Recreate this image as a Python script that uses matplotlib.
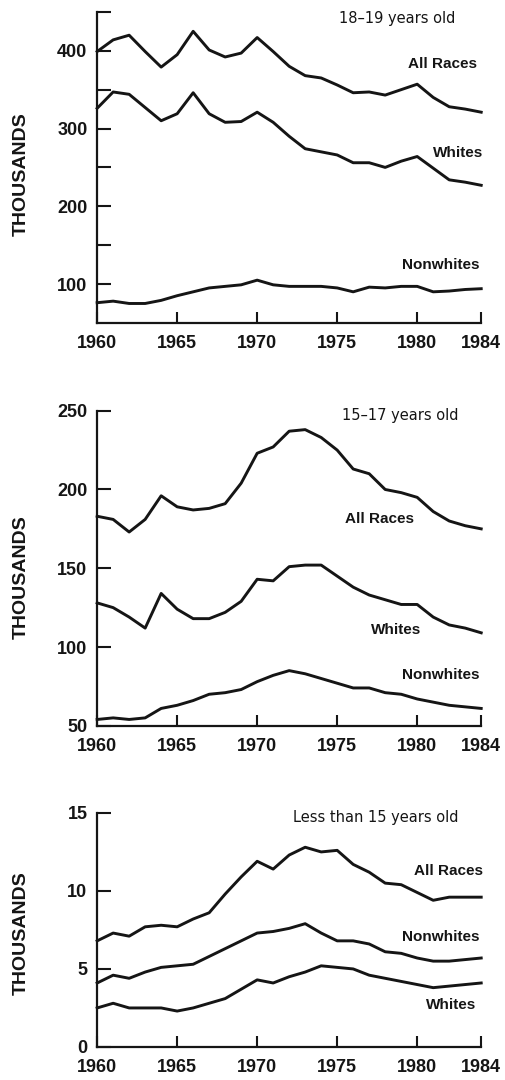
import numpy as np
import matplotlib.pyplot as plt

years = np.arange(1960, 1985)

# 18-19 years old (thousands)
all_18_19 = [399, 414, 420, 399, 379, 395, 425, 401, 392, 397, 417, 399, 380,
             368, 365, 356, 346, 347, 343, 350, 357, 340, 328, 325, 321]
white_18_19 = [326, 347, 344, 327, 310, 319, 346, 319, 308, 309, 321, 308, 290,
               274, 270, 266, 256, 256, 250, 258, 264, 249, 234, 231, 227]
nonwhite_18_19 = [76, 78, 75, 75, 79, 85, 90, 95, 97, 99, 105, 99, 97,
                  97, 97, 95, 90, 96, 95, 97, 97, 90, 91, 93, 94]

# 15-17 years old (thousands)
all_15_17 = [183, 181, 173, 181, 196, 189, 187, 188, 191, 204, 223, 227, 237,
             238, 233, 225, 213, 210, 200, 198, 195, 186, 180, 177, 175]
white_15_17 = [128, 125, 119, 112, 134, 124, 118, 118, 122, 129, 143, 142, 151,
               152, 152, 145, 138, 133, 130, 127, 127, 119, 114, 112, 109]
nonwhite_15_17 = [54, 55, 54, 55, 61, 63, 66, 70, 71, 73, 78, 82, 85,
                  83, 80, 77, 74, 74, 71, 70, 67, 65, 63, 62, 61]

# less than 15 years old (thousands)
all_u15 = [6.8, 7.3, 7.1, 7.7, 7.8, 7.7, 8.2, 8.6, 9.8, 10.9, 11.9, 11.4, 12.3,
           12.8, 12.5, 12.6, 11.7, 11.2, 10.5, 10.4, 9.9, 9.4, 9.6, 9.6, 9.6]
nonwhite_u15 = [4.1, 4.6, 4.4, 4.8, 5.1, 5.2, 5.3, 5.8, 6.3, 6.8, 7.3, 7.4, 7.6,
                7.9, 7.3, 6.8, 6.8, 6.6, 6.1, 6.0, 5.7, 5.5, 5.5, 5.6, 5.7]
white_u15 = [2.5, 2.8, 2.5, 2.5, 2.5, 2.3, 2.5, 2.8, 3.1, 3.7, 4.3, 4.1, 4.5,
             4.8, 5.2, 5.1, 5.0, 4.6, 4.4, 4.2, 4.0, 3.8, 3.9, 4.0, 4.1]

xticks = [1960, 1965, 1970, 1975, 1980, 1984]

TICK_FONT = dict(family='Liberation Sans', weight='bold', size=13)
LBL_FONT = dict(family='Liberation Sans', weight='bold', size=11)
TITLE_FONT = dict(family='DejaVu Sans', size=10.5)
INK = '#151515'

fig = plt.figure(figsize=(5.06, 10.8), dpi=100)
ax1 = fig.add_axes([0.192, 0.701, 0.759, 0.288])
ax2 = fig.add_axes([0.192, 0.328, 0.759, 0.2917])
ax3 = fig.add_axes([0.192, 0.0306, 0.759, 0.2167])


def style_axis(ax, ylim, yticks, ylabels, label_y):
    ax.set_xlim(1960, 1984)
    ax.set_ylim(*ylim)
    for s in ['top', 'right']:
        ax.spines[s].set_visible(False)
    for s in ['left', 'bottom']:
        ax.spines[s].set_linewidth(1.6)
        ax.spines[s].set_color(INK)
    ax.set_xticks(xticks)
    ax.set_xticklabels([str(x) for x in xticks], fontdict=TICK_FONT)
    ax.set_yticks(yticks)
    ax.set_yticklabels(ylabels, fontdict=TICK_FONT)
    ax.tick_params(axis='x', direction='in', length=8, width=1.5, pad=9, colors=INK)
    ax.tick_params(axis='y', direction='in', length=10, width=1.5, pad=7, colors=INK)
    ax.text(-0.198, label_y, 'THOUSANDS', transform=ax.transAxes, rotation=90,
            ha='center', va='center', color=INK, **{**TICK_FONT, 'size': 14})


# panel 1
for s in [all_18_19, white_18_19, nonwhite_18_19]:
    ax1.plot(years, s, color=INK, lw=2.1, clip_on=False)
style_axis(ax1, (50, 450), [100, 150, 200, 250, 300, 350, 400, 450],
           ['100', '', '200', '', '300', '', '400', ''], 0.479)
ax1.text(1982.4, 442, '18\u201319 years old', ha='right', va='center', color=INK, **TITLE_FONT)
ax1.text(1983.75, 383, 'All Races', ha='right', va='center', color=INK, **LBL_FONT)
ax1.text(1984.1, 269, 'Whites', ha='right', va='center', color=INK, **LBL_FONT)
ax1.text(1983.9, 124, 'Nonwhites', ha='right', va='center', color=INK, **LBL_FONT)

# panel 2
for s in [all_15_17, white_15_17, nonwhite_15_17]:
    ax2.plot(years, s, color=INK, lw=2.1, clip_on=False)
style_axis(ax2, (50, 250), [50, 100, 150, 200, 250],
           ['50', '100', '150', '200', '250'], 0.473)
ax2.text(1982.6, 247, '15\u201317 years old', ha='right', va='center', color=INK, **TITLE_FONT)
ax2.text(1979.8, 181, 'All Races', ha='right', va='center', color=INK, **LBL_FONT)
ax2.text(1980.25, 111, 'Whites', ha='right', va='center', color=INK, **LBL_FONT)
ax2.text(1983.9, 82, 'Nonwhites', ha='right', va='center', color=INK, **LBL_FONT)

# panel 3
for s in [all_u15, nonwhite_u15, white_u15]:
    ax3.plot(years, s, color=INK, lw=2.1, clip_on=False)
style_axis(ax3, (0, 15), [0, 5, 10, 15], ['0', '5', '10', '15'], 0.487)
ax3.text(1982.6, 14.7, 'Less than 15 years old', ha='right', va='center', color=INK, **TITLE_FONT)
ax3.text(1984.1, 11.3, 'All Races', ha='right', va='center', color=INK, **LBL_FONT)
ax3.text(1983.9, 7.05, 'Nonwhites', ha='right', va='center', color=INK, **LBL_FONT)
ax3.text(1983.7, 2.7, 'Whites', ha='right', va='center', color=INK, **LBL_FONT)

fig.savefig('out.png', dpi=100, facecolor='white')
